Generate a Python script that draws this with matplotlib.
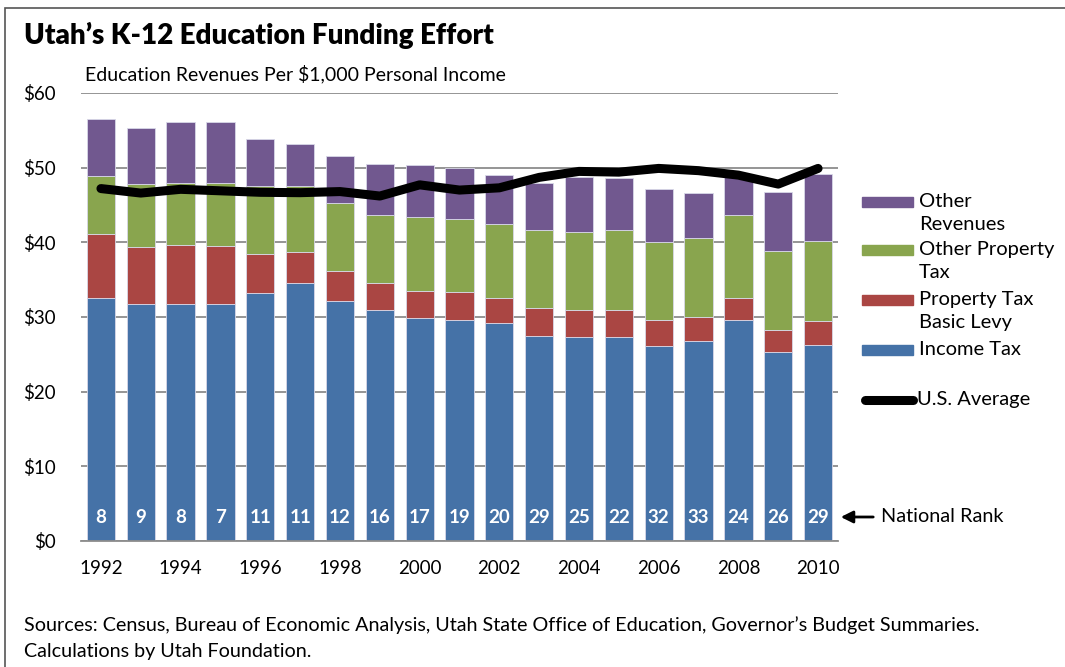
import matplotlib.pyplot as plt
import matplotlib.patches as mpatches
from matplotlib.lines import Line2D
import numpy as np

plt.rcParams["font.family"] = ["Lato", "DejaVu Sans"]

years = list(range(1992, 2011))
incomeTax = [32.6, 31.8, 31.8, 31.8, 33.2, 34.5, 32.1, 31.0, 29.8, 29.6,
             29.2, 27.5, 27.3, 27.3, 26.1, 26.8, 29.6, 25.3, 26.2]
basicLevyTop = [41.1, 39.4, 39.7, 39.5, 38.5, 38.7, 36.2, 34.6, 33.5, 33.3,
                32.6, 31.25, 31.0, 30.9, 29.6, 30.0, 32.6, 28.2, 29.5]
otherPropTop = [48.9, 47.8, 48.0, 48.0, 47.6, 47.5, 45.3, 43.7, 43.4, 43.1,
                42.5, 41.6, 41.4, 41.7, 40.1, 40.6, 43.6, 38.9, 40.2]
totalTop = [56.5, 55.3, 56.1, 56.1, 53.8, 53.2, 51.6, 50.5, 50.4, 49.9,
            49.0, 48.0, 48.7, 48.6, 47.2, 46.6, 48.8, 46.7, 49.1]
usAverage = [47.2, 46.6, 47.1, 46.9, 46.7, 46.65, 46.8, 46.2, 47.7, 47.0,
             47.3, 48.7, 49.5, 49.4, 49.9, 49.6, 49.0, 47.8, 49.9]
nationalRank = [8, 9, 8, 7, 11, 11, 12, 16, 17, 19, 20, 29, 25, 22, 32, 33, 24, 26, 29]

basicLevy = np.array(basicLevyTop) - np.array(incomeTax)
otherProp = np.array(otherPropTop) - np.array(basicLevyTop)
otherRev = np.array(totalTop) - np.array(otherPropTop)

cBlue, cRed, cGreen, cPurple = "#4572A7", "#AA4643", "#89A54E", "#71588F"

fig = plt.figure(figsize=(10.65, 6.67), dpi=100)
ax = fig.add_axes([81 / 1065, 1 - 541 / 667, (838 - 81) / 1065, (541 - 93) / 667])

x = np.arange(len(years))
w = 0.71
edge = dict(edgecolor="#d8d8e8", linewidth=0.6)
ax.bar(x, incomeTax, w, color=cBlue, zorder=2, **edge)
ax.bar(x, basicLevy, w, bottom=incomeTax, color=cRed, zorder=2, **edge)
ax.bar(x, otherProp, w, bottom=basicLevyTop, color=cGreen, zorder=2, **edge)
ax.bar(x, otherRev, w, bottom=otherPropTop, color=cPurple, zorder=2, **edge)
ax.plot(x, usAverage, color="black", linewidth=6.5, solid_capstyle="round",
        solid_joinstyle="round", zorder=3)

for xi, r in zip(x, nationalRank):
    ax.text(xi, 3.2, str(r), color="white", fontweight="bold", fontsize=13.5,
            ha="center", va="center", zorder=4)

ax.set_xlim(-0.5, len(years) - 0.5)
ax.set_ylim(0, 60)
ax.set_yticks(range(0, 61, 10))
ax.set_yticklabels([f"${v}" for v in range(0, 61, 10)], fontsize=13.5)
ax.set_xticks(x[::2])
ax.set_xticklabels([str(y) for y in years[::2]], fontsize=13.5)
ax.tick_params(length=0)
ax.tick_params(axis="y", pad=18)
ax.tick_params(axis="x", pad=14)
ax.grid(axis="y", color="#8c8c8c", linewidth=1.3, zorder=0)
for s in ["top", "right", "left"]:
    ax.spines[s].set_visible(False)
ax.spines["bottom"].set_color("#8c8c8c")
ax.spines["bottom"].set_linewidth(1.3)

# frame around the whole figure
fig.add_artist(mpatches.Rectangle((5 / 1065, -0.05), 1.2, 1 - 8 / 667 + 0.05,
                                  transform=fig.transFigure, fill=False,
                                  edgecolor="#555555", linewidth=1.2))

fig.text(24 / 1065, 1 - 35 / 667, "Utah\u2019s K-12 Education Funding Effort",
         fontsize=20, fontweight="heavy", va="center", ha="left")
fig.text(85 / 1065, 1 - 74 / 667, "Education Revenues Per $1,000 Personal Income",
         fontsize=14, va="center", ha="left")

# legend
legendItems = [
    (cPurple, "Other\nRevenues", 202),
    (cGreen, "Other Property\nTax", 250),
    (cRed, "Property Tax\nBasic Levy", 300),
    (cBlue, "Income Tax", 350),
]
for col, label, yPix in legendItems:
    fig.add_artist(mpatches.Rectangle((862 / 1065, 1 - (yPix + 5) / 667), 51 / 1065, 10 / 667,
                                      transform=fig.transFigure, color=col))
    fig.text(919 / 1065, 1 - (yPix - 9) / 667, label, fontsize=14.5, va="top", ha="left",
             linespacing=1.4)
fig.add_artist(Line2D([865 / 1065, 913 / 1065], [1 - 400 / 667, 1 - 400 / 667],
                      transform=fig.transFigure, color="black", linewidth=6.5,
                      solid_capstyle="round"))
fig.text(917 / 1065, 1 - 400 / 667, "U.S. Average", fontsize=14.5, va="center", ha="left")

fig.add_artist(mpatches.FancyArrowPatch((876 / 1065, 1 - 517 / 667), (838 / 1065, 1 - 517 / 667),
                                        transform=fig.transFigure, arrowstyle="-|>",
                                        mutation_scale=18, color="black", linewidth=2))
fig.text(881 / 1065, 1 - 517 / 667, "National Rank", fontsize=14.3, va="center", ha="left")

fig.text(24 / 1065, 1 - 625 / 667,
         "Sources: Census, Bureau of Economic Analysis, Utah State Office of Education, Governor\u2019s Budget Summaries.",
         fontsize=14.2, va="center", ha="left")
fig.text(24 / 1065, 1 - 652 / 667, "Calculations by Utah Foundation.",
         fontsize=14.2, va="center", ha="left")

fig.savefig("out.png", dpi=100)
